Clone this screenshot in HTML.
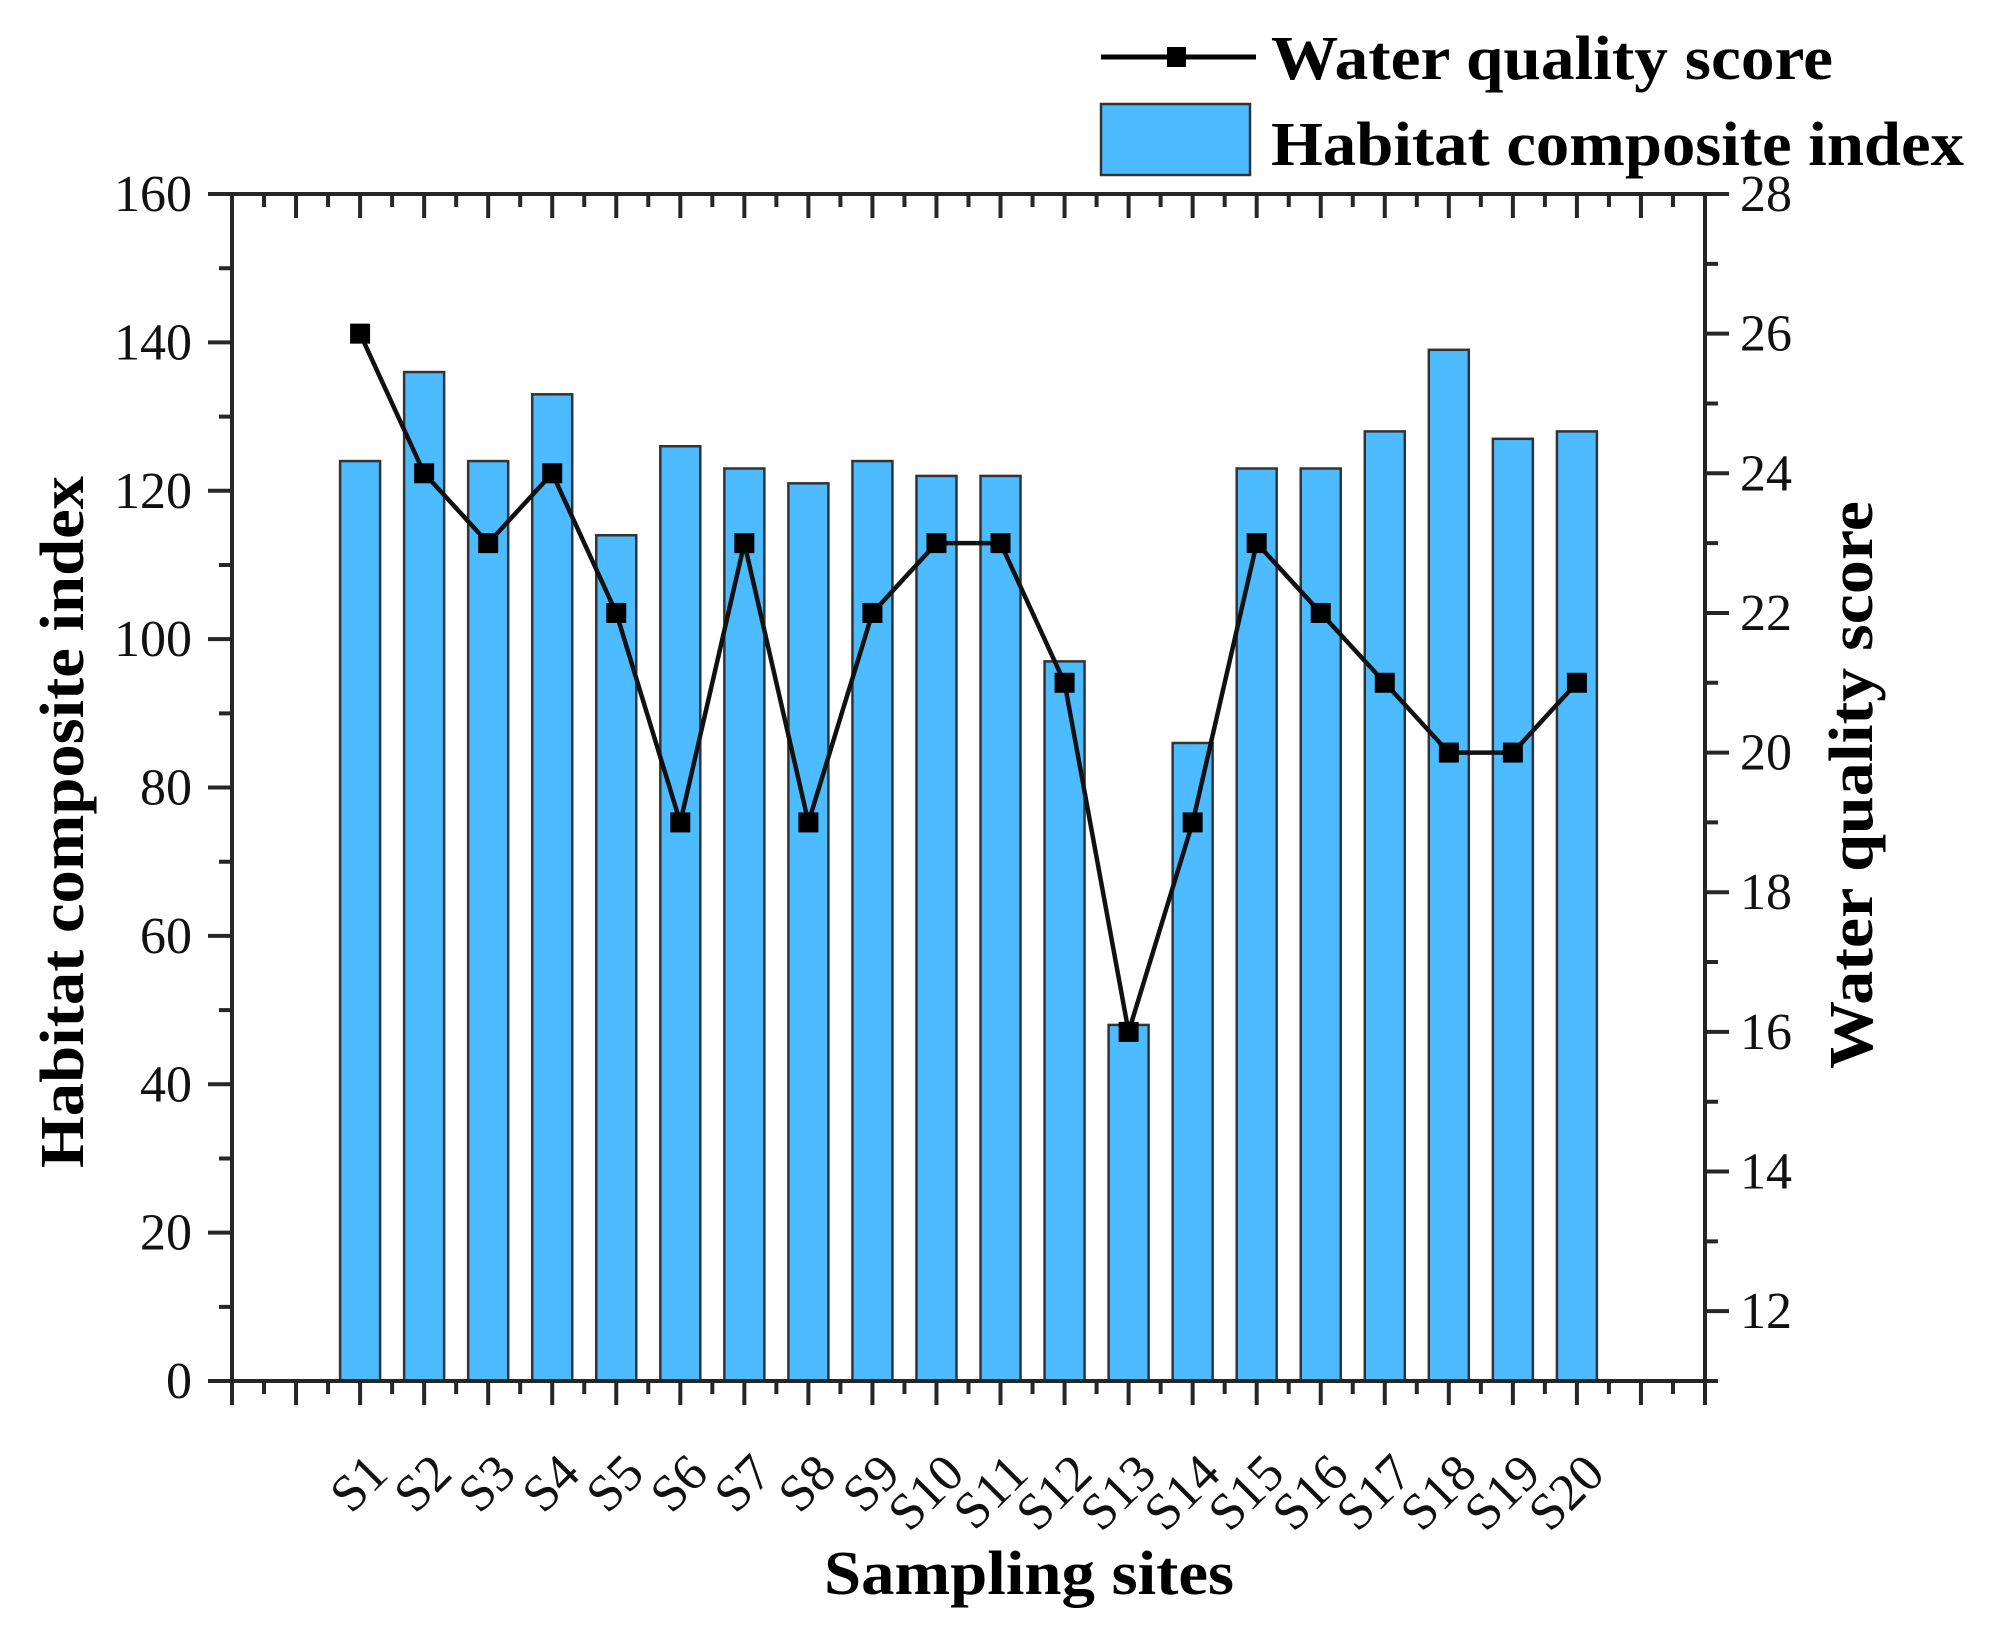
<!DOCTYPE html>
<html><head><meta charset="utf-8"><style>html,body{margin:0;padding:0;background:#fff}svg{display:block}</style></head>
<body>
<svg width="1989" height="1643" viewBox="0 0 1989 1643" xmlns="http://www.w3.org/2000/svg" font-family="'Liberation Serif', serif">
<rect width="1989" height="1643" fill="#fff"/>
<g id="bars" fill="#4dbbff" stroke="#333" stroke-width="2.5"></g>
<g id="axes" stroke="#262626" stroke-width="4" fill="none"></g>
<g id="line"></g>
<g id="labels" fill="#111" font-size="52"></g>
<text x="0" y="0" font-weight="bold" font-size="62" fill="#000" text-anchor="middle" textLength="692" lengthAdjust="spacingAndGlyphs" transform="translate(83,822) rotate(-90)">Habitat composite index</text>
<text x="0" y="0" font-weight="bold" font-size="62" fill="#000" text-anchor="middle" textLength="568" lengthAdjust="spacingAndGlyphs" transform="translate(1872,785) rotate(-90)">Water quality score</text>
<text x="1029" y="1594" font-weight="bold" font-size="62" fill="#000" text-anchor="middle" textLength="410" lengthAdjust="spacingAndGlyphs">Sampling sites</text>
<line x1="1101" y1="57" x2="1256" y2="57" stroke="#000" stroke-width="5"/>
<rect x="1167" y="47" width="19" height="20" fill="#000"/>
<text x="1271" y="79" font-weight="bold" font-size="62" fill="#000" textLength="562" lengthAdjust="spacingAndGlyphs">Water quality score</text>
<rect x="1101" y="104" width="149" height="71" fill="#4dbbff" stroke="#333" stroke-width="2.5"/>
<text x="1271" y="165" font-weight="bold" font-size="62" fill="#000" textLength="693" lengthAdjust="spacingAndGlyphs">Habitat composite index</text>
<script>
(function(){
var NS="http://www.w3.org/2000/svg";
function el(p,t,a,txt){var e=document.createElementNS(NS,t);for(var k in a)e.setAttribute(k,a[k]);if(txt!=null)e.textContent=txt;p.appendChild(e);return e;}
var L=232,R=1705,T=194,B=1381;
var step=(R-L)/23;
function X(i){return L+(i+2)*step;}
function YL(v){return B-(v/160)*(B-T);}
function YR(v){return B-((v-11)/17)*(B-T);}
var hab=[124,136,124,133,114,126,123,121,124,122,122,97,48,86,123,123,128,139,127,128];
var wq=[26,24,23,24,22,19,23,19,22,23,23,21,16,19,23,22,21,20,20,21];
var bars=document.getElementById('bars');
hab.forEach(function(v,i){el(bars,'rect',{x:X(i)-20,y:YL(v),width:40,height:B-YL(v)});});
var ax=document.getElementById('axes');
el(ax,'path',{d:'M'+L+' '+T+'H'+R+'V'+B+'H'+L+'Z','stroke-linecap':'square'});
var d='';
for(var k=0;k<=46;k++){var x=L+k*step/2;var big=k%2==0;
 d+='M'+x+' '+B+'v'+(big?24:13);
 d+='M'+x+' '+T+'v'+(big?24:13);}
for(var v=0;v<=160;v+=10){var y=YL(v);d+='M'+L+' '+y+'h'+(v%20==0?-24:-13);}
for(var v=11;v<=28;v++){var y=YR(v);d+='M'+R+' '+y+'h'+(v%2==0?24:13);}
el(ax,'path',{d:d});
var lg=document.getElementById('line');
var pts=wq.map(function(v,i){return X(i)+','+YR(v);}).join(' ');
el(lg,'polyline',{points:pts,fill:'none',stroke:'#111','stroke-width':4.5});
wq.forEach(function(v,i){el(lg,'rect',{x:X(i)-10,y:YR(v)-10,width:20,height:20,fill:'#000'});});
var lb=document.getElementById('labels');
for(var v=0;v<=160;v+=20){el(lb,'text',{x:192,y:YL(v)+17,'text-anchor':'end'},String(v));}
for(var v=12;v<=28;v+=2){el(lb,'text',{x:1740,y:YR(v)+17},String(v));}
hab.forEach(function(_,i){var x=X(i)+30,y=1476;
 el(lb,'text',{x:0,y:0,'text-anchor':'end',transform:'translate('+x+','+y+') rotate(-45)'},'S'+(i+1));});
})();
</script>
</svg>
</body></html>
